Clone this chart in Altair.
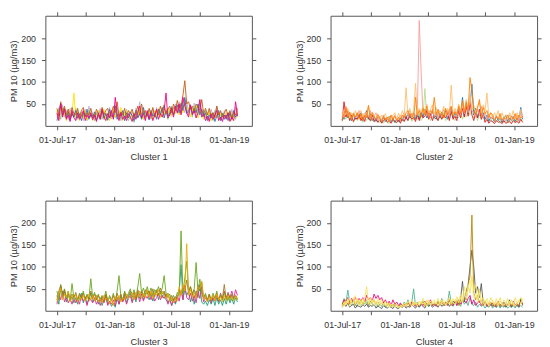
import altair as alt
import pandas as pd

# ---- data: PM10 values sampled every 6 days from 01-Jul-2017 (97 samples) ----
START = "2017-07-01"
STEP = "6D"
N = 97

# Cluster 1
c1_lavender = [18,42,25,48,20,35,15,40,22,30, 14,35,20,28,12,38,18,45,22,30, 15,32,18,40,25,14,30,20,42,16,
               28,48,20,35,12,30,18,38,22,15, 32,18,40,22,55,20,35,14,30,25, 18,38,22,42,28,35,20,45,25,40,
               22,45,30,50,28,55,35,48,30,60, 25,48,30,52,22,40,58,25,35,18, 30,14,38,20,28,45,15,32,12,35,
               18,30,12,38,20,42,22]
c1_green = [25,38,15,42,28,20,35,12,30,22, 40,15,25,32,18,28,12,35,20,26, 12,28,22,35,15,30,25,12,32,20,
            35,18,42,28,15,25,32,20,12,28, 25,8,30,20,38,28,15,32,22,35, 15,30,25,18,35,20,40,28,32,15,
            38,25,42,30,35,48,28,55,60,38, 30,42,20,45,35,25,50,30,20,35, 15,30,22,12,35,20,28,15,30,20,
            25,18,32,20,28,15,35]
c1_yellow = [35,15,45,22,30,12,38,18,28,75, 20,32,12,28,18,35,14,25,30,12, 28,14,35,18,25,38,15,30,12,22,
             38,20,30,15,42,12,28,35,18,25, 12,30,18,35,22,40,15,28,20,32, 25,15,35,20,40,18,30,22,38,28,
             40,22,35,28,45,25,50,30,55,35, 42,20,38,28,45,18,35,28,15,30, 18,35,12,25,20,30,14,28,18,22,
             30,15,25,12,28,18,30]
c1_blue = [12,30,52,25,40,18,32,14,28,20, 35,18,28,12,30,22,38,15,25,18, 32,12,25,20,35,18,28,14,38,22,
           20,45,15,28,22,35,12,30,18,32, 22,12,35,18,28,15,42,20,30,14, 35,22,28,15,38,25,42,18,35,22,
           30,42,25,38,48,30,52,35,65,28, 35,45,28,40,30,50,25,38,22,30, 12,25,18,30,10,22,35,12,28,15,
           25,12,30,15,35,20,28]
c1_brown = [40,22,55,30,45,25,38,20,42,28, 25,40,18,35,42,20,30,25,40,22, 20,38,28,15,42,25,35,40,18,30,
            45,30,55,20,32,25,40,18,35,28, 38,22,30,45,25,50,28,35,22,40, 28,42,20,35,25,45,30,48,28,38,
            45,30,50,35,58,40,45,70,103,50, 55,38,45,30,50,42,35,60,28,40, 25,40,20,30,18,45,25,35,20,30,
            38,22,35,18,32,25,40]
c1_pink = [30,12,50,20,38,15,25,10,35,18, 12,30,15,22,35,12,25,18,30,14, 25,10,30,15,38,20,12,28,18,35,
           15,65,28,12,30,15,22,12,28,20, 10,28,15,32,45,18,28,12,35,15, 30,12,25,38,15,28,20,35,75,18,
           25,40,20,45,30,50,25,65,45,30, 20,48,25,35,18,30,60,20,28,12, 22,10,28,15,25,35,12,20,10,25,
           15,30,10,20,12,55,22]

# Cluster 2
c2_lgreen = [10,22,15,28,12,20,8,18,12,22, 15,8,20,12,25,10,18,8,15,10, 8,15,6,12,10,5,14,8,12,6,
             12,8,15,10,18,12,25,10,18,22, 15,28,12,20,85,18,25,12,22,15, 28,12,20,15,30,12,22,15,30,18,
             12,25,18,30,15,28,20,35,25,40, 18,30,12,25,15,28,10,20,12,18, 8,15,10,18,6,12,8,14,6,12,
             8,15,6,12,8,18,10]
c2_blue = [25,15,38,18,30,12,25,15,28,18, 30,12,22,35,15,28,12,22,10,20, 15,8,20,10,15,22,10,18,8,15,
           10,18,12,25,15,30,18,22,30,15, 28,15,32,20,38,18,30,22,35,20, 15,32,18,28,20,35,15,25,40,18,
           30,18,42,25,65,22,50,28,45,95, 25,40,18,35,22,30,15,25,10,20, 18,10,22,12,18,8,15,25,10,18,
           12,22,10,18,12,42,15]
c2_red = [12,55,20,35,12,25,10,20,15,28, 12,22,10,28,18,12,25,10,18,8, 15,6,12,18,8,12,6,15,10,8,
          14,6,18,10,22,12,28,15,20,10, 25,12,28,18,22,35,15,28,12,25, 20,12,28,15,25,18,30,12,35,15,
          22,12,35,18,40,20,45,22,55,25, 12,30,18,38,15,25,8,15,6,12, 10,5,12,8,10,5,12,6,8,10,
          5,12,8,10,6,15,8]
c2_pink = [30,18,45,22,28,15,30,18,25,35, 18,28,15,32,20,35,15,22,30,12, 22,12,25,15,20,10,22,15,25,12,
           18,25,15,30,22,28,35,18,30,22, 35,240,125,28,35,22,30,18,38,22, 32,18,28,22,38,20,35,22,42,25,
           35,20,42,25,48,28,52,30,62,35, 30,20,38,25,45,20,30,15,28,15, 22,12,25,15,22,12,20,10,18,25,
           12,22,15,25,12,30,18]
c2_lorange = [20,35,25,40,18,30,20,35,22,28, 35,20,30,22,45,18,32,25,15,28, 12,25,18,28,15,22,12,25,30,15,
              28,18,35,22,87,25,40,22,35,97, 25,40,30,45,28,50,30,38,48,28, 42,25,35,28,45,22,40,30,93,25,
              40,28,50,30,55,35,60,38,70,40, 48,30,45,55,28,48,35,75,22,30, 18,30,20,35,15,30,18,25,15,30,
              20,35,15,30,18,38,22]
c2_orange = [15,28,42,20,32,15,28,20,30,15, 28,12,25,18,47,15,30,20,15,25, 18,10,22,12,20,10,25,15,22,12,
             20,12,25,18,30,35,22,28,15,65, 22,35,20,40,25,45,22,35,28,65, 25,38,22,32,18,40,25,35,45,22,
             32,25,45,28,58,30,55,35,110,80, 38,25,40,60,22,42,28,35,18,30, 25,12,22,15,28,12,20,15,25,12,
             22,15,28,12,25,18,22]

# Cluster 3
c3_teal = [35,15,55,30,45,20,38,22,32,18, 30,15,28,40,18,32,15,28,40,20, 25,35,15,30,12,25,35,15,22,10,
           18,8,30,15,35,22,38,18,32,40, 22,35,20,42,28,45,25,38,45,25, 40,22,38,45,25,45,30,42,25,18,
           28,12,25,15,30,42,105,25,50,35, 45,20,40,15,45,30,60,20,15,22, 12,25,15,28,12,30,15,25,12,28,
           15,30,18,28,15,30,20]
c3_magenta = [15,38,25,45,20,32,18,28,15,30, 18,28,15,35,22,28,12,30,25,18, 30,15,25,12,28,18,32,12,22,15,
              25,12,30,15,28,20,32,15,28,35, 18,32,25,38,20,38,22,35,28,40, 25,38,22,30,40,25,35,28,38,15,
              25,12,28,18,35,22,45,25,58,30, 25,40,22,35,18,45,28,55,20,30, 22,35,18,30,22,35,20,40,25,45,
              28,42,30,45,28,48,35]
c3_brown = [25,45,58,35,48,28,42,25,38,30, 42,25,38,28,40,25,35,22,45,28, 38,25,35,22,32,20,38,25,30,22,
            35,20,40,25,38,22,42,28,35,45, 30,42,28,48,35,45,32,48,38,45, 35,50,32,48,35,52,38,45,32,40,
            25,35,22,32,28,50,40,55,45,70, 40,55,35,48,30,58,45,65,28,35, 25,38,22,35,28,40,22,35,28,60,
            25,38,28,35,25,35,28]
c3_green = [45,25,60,35,50,28,45,22,62,30, 38,22,40,30,45,25,38,28,73,30, 42,25,38,22,35,28,45,20,35,25,
            40,22,45,80,32,25,45,30,40,50, 35,48,30,55,85,40,52,35,55,38, 52,35,48,42,55,38,52,80,40,30,
            38,22,35,25,42,35,182,40,75,113, 45,55,40,50,110,45,72,38,30,40, 22,38,25,40,28,45,22,38,25,42,
            28,40,22,38,28,35,25]
c3_yellow = [20,40,52,25,38,30,45,20,35,25, 38,20,32,25,35,22,30,38,25,35, 22,35,20,28,18,35,25,30,15,28,
             12,32,25,35,20,30,25,38,28,32, 40,25,42,30,45,28,40,30,48,30, 45,28,42,35,48,30,45,35,28,40,
             22,30,18,28,22,55,35,60,45,153, 35,48,30,42,28,55,50,68,25,32, 20,32,25,35,22,38,25,32,20,35,
             22,35,25,32,22,35,25]

# Cluster 4
c4_teal = [15,28,18,47,22,12,25,15,10,22, 12,20,15,25,10,22,15,12,20,8, 15,10,20,8,12,18,8,15,10,12,
           8,15,10,20,12,25,10,18,50,12, 20,10,15,22,12,18,10,20,12,18, 12,22,15,28,12,20,15,45,18,10,
           22,12,18,10,25,15,22,12,30,15, 12,20,8,15,10,14,6,12,8,15, 6,12,8,15,6,12,8,14,6,10,
           8,12,6,14,8,12,8]
c4_magenta = [12,25,18,30,15,28,20,32,18,28, 22,30,20,35,25,30,22,38,28,35, 25,30,18,25,15,22,12,25,15,20,
              12,18,10,15,10,18,12,20,15,10, 15,10,18,12,22,12,18,25,12,15, 10,18,12,22,15,20,12,25,15,12,
              22,12,25,15,20,22,18,28,35,15, 25,12,18,22,12,20,15,10,18,12, 18,10,15,22,12,18,10,20,12,15,
              10,22,12,18,10,25,15]
c4_gray = [8,15,10,18,8,12,15,6,12,10, 8,14,10,15,8,12,10,15,6,12, 8,5,12,8,6,10,8,5,12,6,
           5,10,8,12,6,10,8,14,10,6, 12,8,14,10,6,15,10,14,8,12, 15,8,18,10,14,12,20,10,15,22,
           18,25,15,28,67,20,45,60,100,138, 100,40,55,30,62,18,22,12,10,18, 10,15,8,14,10,12,20,8,12,25,
           8,15,10,12,8,28,12]
c4_brown = [20,12,25,15,22,18,25,12,22,15, 25,15,22,18,12,22,18,25,15,20, 12,20,15,10,18,12,15,10,18,12,
            10,14,8,15,12,18,10,14,20,12, 18,12,15,20,10,18,14,20,12,18, 12,20,15,22,12,18,14,25,12,18,
            15,22,12,25,18,30,25,55,80,218, 40,25,35,18,25,12,22,15,10,20, 12,18,10,20,12,18,10,15,12,18,
            12,18,10,15,12,20,14]
c4_pale = [14,10,22,18,28,15,20,35,18,25, 12,28,18,22,30,15,25,12,22,18, 10,20,15,12,18,8,15,12,8,14,
           10,8,14,10,15,12,18,10,20,15, 18,12,22,15,20,10,25,12,20,15, 20,12,22,18,25,12,20,15,25,18,
           15,25,20,30,18,40,28,50,70,55, 30,38,20,42,15,22,12,20,10,18, 25,15,20,10,22,15,12,20,10,22,
           15,20,10,18,25,15,28]
c4_yellow = [8,20,14,28,10,25,30,15,28,12, 25,15,28,55,15,30,18,25,12,28, 18,25,12,22,10,18,8,15,10,12,
             6,12,8,18,10,22,15,25,12,20, 10,22,15,28,12,25,15,22,18,25, 15,28,12,25,15,22,18,30,15,28,
             20,32,18,38,25,55,35,60,40,80, 45,60,25,50,22,30,18,28,15,30, 22,12,28,15,30,12,25,15,28,12,
             25,12,30,15,22,30,18]

panels = [
    ("Cluster 1", [("c1a", c1_lavender, "#BEAED4"), ("c1g", c1_green, "#7FC97F"),
                   ("c1b", c1_yellow, "#FFE000"), ("c1c", c1_blue, "#386CB0"),
                   ("c1d", c1_brown, "#C55A11"), ("c1e", c1_pink, "#F0027F")]),
    ("Cluster 2", [("c2a", c2_lgreen, "#B2DF8A"), ("c2b", c2_blue, "#1F78B4"),
                   ("c2c", c2_red, "#E31A1C"), ("c2d", c2_pink, "#FB9A99"),
                   ("c2e", c2_lorange, "#FDBF6F"), ("c2f", c2_orange, "#FF7F00")]),
    ("Cluster 3", [("c3a", c3_teal, "#1B9E77"), ("c3b", c3_magenta, "#E7298A"),
                   ("c3d", c3_green, "#66A61E"), ("c3c", c3_brown, "#A6761D"),
                   ("c3e", c3_yellow, "#E6AB02")]),
    ("Cluster 4", [("c4a", c4_teal, "#4DB38A"), ("c4b", c4_magenta, "#F0027F"),
                   ("c4c", c4_gray, "#555555"), ("c4d", c4_brown, "#B8860B"),
                   ("c4f", c4_pale, "#FFEE88"), ("c4e", c4_yellow, "#F5E15A")]),
]

dates = pd.date_range(START, periods=N, freq=STEP)
all_names, all_colors = [], []
for _, ser in panels:
    for name, _, col in ser:
        all_names.append(name)
        all_colors.append(col)

x_ticks = [alt.DateTime(year=y, month=m, date=1) for (y, m) in
           [(2017, 7), (2017, 10), (2018, 1), (2018, 4), (2018, 7), (2018, 10), (2019, 1)]]
x_scale = alt.Scale(domain=[alt.DateTime(year=2017, month=5, date=25),
                            alt.DateTime(year=2019, month=3, date=15)])
y_scale = alt.Scale(domain=[0, 251], nice=False)
color_scale = alt.Scale(domain=all_names, range=all_colors)
label_expr = ("(month(datum.value) == 0 || month(datum.value) == 6) ? "
              "timeFormat(datum.value, '%d-%b-%y') : ''")


def make_panel(title, ser):
    rows = []
    for name, vals, _ in ser:
        for d, v in zip(dates, vals):
            rows.append({"date": d, "value": v, "series": name})
    df = pd.DataFrame(rows)
    base = alt.Chart(df)
    lines = base.mark_line(strokeWidth=0.9).encode(
        x=alt.X("date:T", scale=x_scale,
                axis=alt.Axis(orient="bottom", values=x_ticks, labelExpr=label_expr,
                              title=title, labelPadding=6, titlePadding=7, labelOverlap=False)),
        y=alt.Y("value:Q", scale=y_scale,
                axis=alt.Axis(orient="left", values=[50, 100, 150, 200], title="PM 10 (\u00b5g/m3)",
                              labelPadding=6, titlePadding=2)),
        color=alt.Color("series:N", scale=color_scale, legend=None),
    )
    ghost = base.mark_line(opacity=0).encode(
        x=alt.X("date:T", scale=x_scale,
                axis=alt.Axis(orient="top", values=x_ticks, labels=False, title=None)),
        y=alt.Y("value:Q", scale=y_scale,
                axis=alt.Axis(orient="right", values=[50, 100, 150, 200], labels=False, title=None)),
        detail="series:N",
    )
    return alt.layer(lines, ghost).resolve_axis(x="independent", y="independent").properties(
        width=210, height=112)


p = [make_panel(t, s) for t, s in panels]
chart = alt.vconcat(
    alt.hconcat(p[0], p[1], spacing=37),
    alt.hconcat(p[2], p[3], spacing=37),
    spacing=35,
).properties(
    padding={"left": 0, "top": 0, "right": 0, "bottom": 0}
).configure_view(
    stroke="#555555", strokeWidth=1
).configure_axis(
    grid=False, domain=False, tickColor="#555555", tickSize=4, tickWidth=1,
    labelFont="Liberation Sans", labelFontSize=9, labelColor="#333333",
    titleFont="Liberation Sans", titleFontSize=9.5, titleFontWeight="normal", titleColor="#333333",
)

chart.save("out.html", embed_options={"renderer": "svg", "actions": False})
